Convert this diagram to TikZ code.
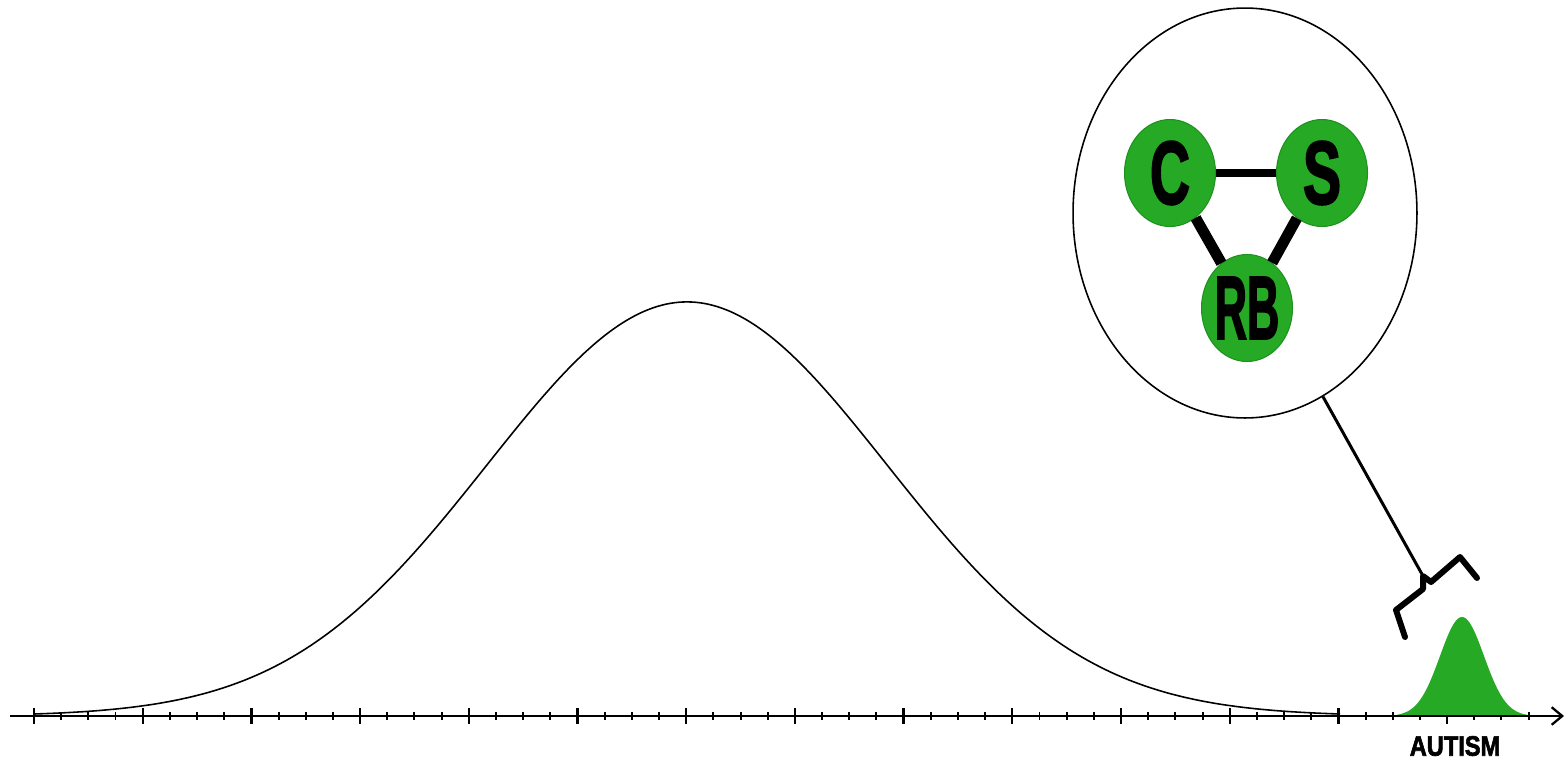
\documentclass[tikz,border=0pt]{standalone}
\usepackage{fontspec}
\setmainfont{Liberation Sans}
\newfontfamily\heavyfont[FakeBold=2.4]{Liberation Sans Bold}
\usepackage{graphicx}
\usetikzlibrary{shapes.geometric,arrows.meta}
\definecolor{autgreen}{RGB}{38,170,38}
\tikzset{
  trait/.style={ellipse, fill=autgreen, draw=autgreen!85!black, line width=0.6pt,
    minimum width=1.82cm, minimum height=2.14cm, inner sep=0pt},
  traittext/.style={font=\fontsize{51}{51}\heavyfont},
  link/.style={line width=4.2pt, black},
  diag/.style={line width=6.2pt, black},
  majtick/.style={line width=1.3pt},
  mintick/.style={line width=1.1pt},
}
\begin{document}
\begin{tikzpicture}[x=0.02cm, y=-0.02cm]
\useasboundingbox (0,0) rectangle (1566,765);
% axis
\coordinate (axstart) at (10,716);
\coordinate (axend) at (1564,716);
\draw[line width=1.4pt, -{Straight Barb[length=6pt,width=10pt,line width=1.3pt]}] (axstart) -- (axend);
% ticks
\foreach \i in {0,...,55}{
  \pgfmathsetmacro{\tx}{34+27.175*\i}
  \pgfmathtruncatemacro{\r}{mod(\i,4)}
  \ifnum\r=0
    \draw[majtick] (\tx,708) -- (\tx,724);
  \else
    \draw[mintick] (\tx,712) -- (\tx,720);
  \fi
}
% big bell curve
\draw[line width=0.9pt] plot[domain=34:1340, samples=260, smooth] (\x, {716-414*exp(-((\x-687)/200)^2/2)});
% green autism peak
\fill[autgreen] plot[domain=1397:1527, samples=80, smooth] (\x, {716-99*exp(-((\x-1462)/22)^2/2)}) -- cycle;
% label
\node[font=\fontsize{16}{16}\heavyfont] (autism) at (1455,746) {\scalebox{0.84}[1]{AUTISM}};
% zoom ellipse
\node[ellipse, draw, line width=0.9pt, minimum width=6.88cm, minimum height=8.2cm, inner sep=0pt] (zoomell) at (1245,213) {};
% trait nodes
\node[trait] (C) at (1170,173) {};
\node[trait] (S) at (1322,173) {};
\node[trait] (RB) at (1247,308) {};
\draw[link] (C) -- (S);
\draw[diag] (C) -- (RB);
\draw[diag] (S) -- (RB);
\node[traittext, inner sep=0pt] (Ct) at (C) {\scalebox{0.62}[1]{C}};
\node[traittext, inner sep=0pt] (St) at (S) {\scalebox{0.64}[1]{S}};
\node[traittext, inner sep=0pt] (RBt) at (RB) {\scalebox{0.5}[1]{RB}};
% brace
\coordinate (tip) at (1423,576);
\draw[line width=1.7pt] (zoomell.-67) -- (tip);
\draw[line width=3.4pt, line cap=round, line join=round]
  (1405,637) -- (1396,610) -- (1423,589) -- (tip) -- (1431,582) -- (1460,557) -- (1477,578);
\end{tikzpicture}
\end{document}
